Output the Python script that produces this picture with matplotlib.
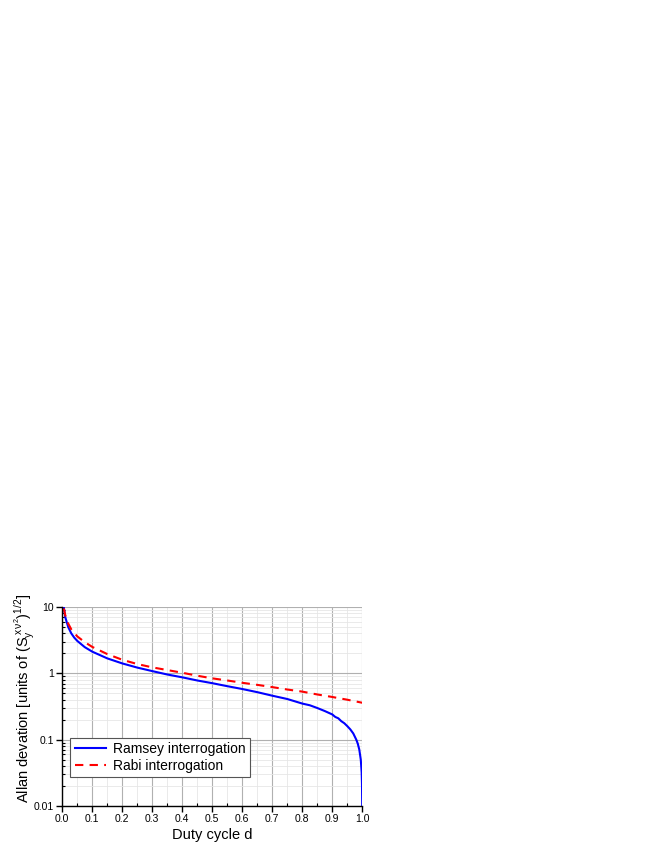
import matplotlib
matplotlib.use("Agg")
import matplotlib.pyplot as plt
from matplotlib.ticker import MultipleLocator, LogLocator, NullFormatter, FixedFormatter, FixedLocator

plt.rcParams['font.family'] = ['Liberation Sans', 'DejaVu Sans']
plt.rcParams['mathtext.fontset'] = 'custom'
plt.rcParams['mathtext.rm'] = 'Liberation Sans'
plt.rcParams['mathtext.it'] = 'Liberation Sans'

# values
d_ramsey = [0.005, 0.01, 0.02, 0.03, 0.04, 0.05, 0.075, 0.1, 0.15, 0.2, 0.25, 0.3,
            0.35, 0.4, 0.45, 0.5, 0.55, 0.6, 0.65, 0.7, 0.75, 0.8, 0.825, 0.85,
            0.875, 0.9, 0.91, 0.92, 0.93, 0.94, 0.95, 0.96, 0.97, 0.98, 0.985,
            0.99, 0.995, 0.998, 0.999, 0.9998]
ramsey = [10.0, 7.0, 4.95, 4.0, 3.45, 3.08, 2.48, 2.12, 1.68, 1.41, 1.22, 1.08,
          0.96, 0.87, 0.78, 0.71, 0.64, 0.58, 0.52, 0.46, 0.41, 0.35, 0.33, 0.30,
          0.27, 0.24, 0.22, 0.21, 0.19, 0.177, 0.16, 0.143, 0.124, 0.10, 0.087,
          0.071, 0.05, 0.032, 0.022, 0.01]

d_rabi = [0.005, 0.01, 0.02, 0.03, 0.05, 0.075, 0.1, 0.15, 0.2, 0.25, 0.3, 0.35,
          0.4, 0.45, 0.5, 0.55, 0.6, 0.65, 0.7, 0.75, 0.8, 0.85, 0.9, 0.95, 1.0]
rabi = [9.5, 7.5, 5.6, 4.6, 3.6, 2.95, 2.5, 1.95, 1.6, 1.38, 1.23, 1.12,
        1.02, 0.92, 0.84, 0.78, 0.72, 0.67, 0.62, 0.57, 0.53, 0.48, 0.44, 0.40, 0.36]

xticks = [0.0, 0.1, 0.2, 0.3, 0.4, 0.5, 0.6, 0.7, 0.8, 0.9, 1.0]
yticks = [0.01, 0.1, 1, 10]
ytick_labels = ['0.01', '0.1', '1', '10']

fig = plt.figure(figsize=(6.64, 8.6), dpi=100)
ax = fig.add_axes([0.0938, 0.0628, 0.4518, 0.2314])

ax.plot(d_ramsey, ramsey, color='#0000ff', lw=1.5, label='Ramsey interrogation')
ax.plot(d_rabi, rabi, color='#ff0000', lw=1.5, ls=(0, (4, 3)), label='Rabi interrogation')

ax.set_yscale('log')
ax.set_xlim(0, 1.0)
ax.set_ylim(0.01, 10)

ax.xaxis.set_major_locator(FixedLocator(xticks))
ax.xaxis.set_minor_locator(MultipleLocator(0.05))
ax.yaxis.set_major_locator(FixedLocator(yticks))
ax.yaxis.set_major_formatter(FixedFormatter(ytick_labels))
ax.yaxis.set_minor_locator(LogLocator(base=10, subs=range(2, 10)))
ax.yaxis.set_minor_formatter(NullFormatter())
ax.set_xticklabels(['%.1f' % v for v in xticks])

ax.grid(which='major', color='#b0b0b0', lw=0.8)
ax.grid(which='minor', color='#e6e6e6', lw=0.6)
ax.set_axisbelow(True)

for s in ('top', 'right'):
    ax.spines[s].set_visible(False)
for s in ('left', 'bottom'):
    ax.spines[s].set_linewidth(1.0)

ax.tick_params(which='major', direction='out', length=4, width=1.0, labelsize=7.5, pad=2)
ax.tick_params(which='minor', direction='in', length=2.5, width=0.8)

ax.set_xlabel('Duty cycle d', fontsize=10.5, labelpad=3)
ax.set_ylabel(r'Allan devation [units of $(S_{y}^{\,x\,\nu^{2}})^{1/2}$]', fontsize=10.5)
ax.yaxis.set_label_coords(-0.085, 0.54)

leg = ax.legend(loc='lower left', bbox_to_anchor=(0.027, 0.145), fontsize=10,
                frameon=True, fancybox=False, edgecolor='#555555', framealpha=1,
                handlelength=2.3, borderpad=0.3, labelspacing=0.2, handletextpad=0.5,
                borderaxespad=0)
leg.get_frame().set_linewidth(0.8)

fig.savefig('out.png', dpi=100)
